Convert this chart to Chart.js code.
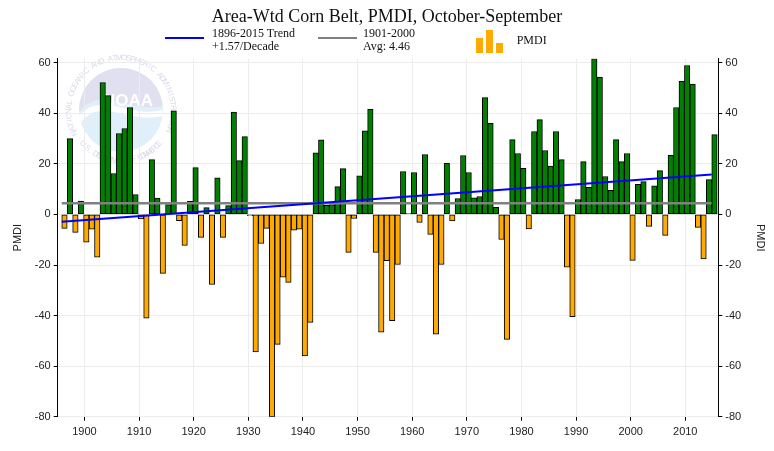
<!DOCTYPE html>
<html>
<head>
<meta charset="utf-8">
<script src="https://cdn.jsdelivr.net/npm/chart.js@4.4.0/dist/chart.umd.min.js"></script>
<style>
  html, body { margin: 0; padding: 0; background: #fff; }
  #wrap { position: relative; width: 774px; height: 451px; overflow: hidden; }
  #chart { position: absolute; left: 0; top: 0; }
  .t { position: absolute; font-family: "Liberation Serif", "Times New Roman", serif; color: #111; white-space: nowrap; }
  .sw { position: absolute; }
</style>
</head>
<body>
<div id="wrap">
  <canvas id="chart" width="774" height="451"></canvas>
  <div class="t" style="left:0;width:774px;top:6.6px;text-align:center;font-size:18px;line-height:18px">Area-Wtd Corn Belt, PMDI, October-September</div>

  <div class="sw" style="left:165px;top:36.7px;width:39px;height:2px;background:#0000ff"></div>
  <div class="t" style="left:212px;top:26.8px;font-size:12px;line-height:13px">1896-2015 Trend<br>+1.57/Decade</div>

  <div class="sw" style="left:318px;top:36.5px;width:39px;height:2.5px;background:#808080"></div>
  <div class="t" style="left:363px;top:26.8px;font-size:12px;line-height:13px">1901-2000<br>Avg: 4.46</div>

  <div class="sw" style="left:476px;top:37.7px;width:7.3px;height:15.6px;background:#ffaa00"></div>
  <div class="sw" style="left:486px;top:30px;width:7.3px;height:23.3px;background:#ffaa00"></div>
  <div class="sw" style="left:496px;top:42.7px;width:7.3px;height:10.6px;background:#ffaa00"></div>
  <div class="t" style="left:516.7px;top:33.5px;font-size:12px;line-height:13px">PMDI</div>
</div>

<script>
// Oct-Sep area-weighted PMDI (x10), one value per year starting 1896
const startYear = 1896;
const pmdi = [
  -5.5, 30, -7.1, 5.3,                                         // 1896-1899
  -11, -5.8, -16.9, 52.2, 47, 16.2, 32, 34, 42.3, 7.9,          // 1900s
  -1.8, -41, 21.7, 6.5, -23.3, 3.9, 41, -2.5, -12.3, 5.2,       // 1910s
  18.5, -9.1, 2.7, -27.7, 14.5, -9.1, 3.5, 40.5, 21.3, 30.8,    // 1920s
  -0.5, -54.4, -11.5, -5.5, -80, -51.4, -24.8, -26.9, -6.2, -5.8, // 1930s
  -56, -42.7, 24.4, 29.5, 3.6, 3.9, 11, 18.1, -15, -1.6,        // 1940s
  15.3, 33.1, 41.6, -15, -46.6, -18.3, -42, -19.8, 17, 0.3,     // 1950s
  16.6, -3.2, 23.7, -7.9, -47.4, -19.8, 20.2, -2.6, 6.3, 23.3,  // 1960s
  16.6, 6.6, 7.1, 46.2, 36, 2.8, -9.9, -49.4, 29.6, 24.1,       // 1970s
  18.2, -5.7, 32.8, 37.5, 25.3, 19.1, 32.8, 21.7, -20.9, -40.4, // 1980s
  5.9, 20.9, 10.7, 61.6, 54.2, 15, 9.5, 29.6, 20.9, 24.1,       // 1990s
  -18.2, 11.9, 13, -4.7, 11.3, 17.3, -8.3, 23.4, 42.3, 52.6,    // 2000s
  58.9, 51.6, -5.1, -17.6, 13.8, 31.6                           // 2010-2015
];

// 1896-2015 linear trend (+1.57/decade), end points
const trendYears = [1895.5, 2014.5];
const trendValues = [-2.9, 15.8];

// 1901-2000 average
const avgYears = [1895.5, 2014.5];
const avgValue = 4.46;

const xTickYears = [1900, 1910, 1920, 1930, 1940, 1950, 1960, 1970, 1980, 1990, 2000, 2010];
const yTicks = [-80, -60, -40, -20, 0, 20, 40, 60];

const GREEN = '#008000';
const ORANGE = '#ffaa00';
const sans = '"Liberation Sans", Arial, sans-serif';

// faint NOAA seal behind the plot
const seal = {
  id: 'seal',
  beforeDraw(chart) {
    const c = chart.ctx;
    const cx = 121, cy = 110, r = 42;
    c.save();
    c.beginPath(); c.arc(cx, cy, r, 0, Math.PI * 2); c.clip();
    c.fillStyle = '#e0effa';
    c.fillRect(cx - r, cy - r, 2 * r, 2 * r);
    c.fillStyle = '#e0e0f0';
    c.beginPath();
    c.moveTo(cx - r, cy + 2);
    c.bezierCurveTo(cx - 20, cy - 26, cx + 8, cy + 4, cx + r, cy - 4);
    c.lineTo(cx + r, cy - r); c.lineTo(cx - r, cy - r); c.closePath();
    c.fill();
    c.strokeStyle = '#fff'; c.lineWidth = 6;
    c.beginPath();
    c.moveTo(cx - r, cy + 10);
    c.bezierCurveTo(cx - 20, cy - 18, cx + 8, cy + 12, cx + r, cy + 3);
    c.stroke();
    c.restore();

    c.save();
    c.fillStyle = '#ffffff';
    c.font = 'bold 17px ' + sans;
    c.textAlign = 'center';
    c.fillText('NOAA', cx + 7, cy - 4);
    c.restore();

    const ring = (txt, a0, a1, R, top) => {
      c.save();
      c.fillStyle = '#dadaea';
      c.font = '8px ' + sans;
      c.textAlign = 'center';
      c.textBaseline = 'middle';
      const n = txt.length;
      for (let i = 0; i < n; i++) {
        const a = a0 + (a1 - a0) * (i + 0.5) / n;
        c.save();
        c.translate(cx + R * Math.cos(a), cy + R * Math.sin(a));
        c.rotate(top ? a + Math.PI / 2 : a - Math.PI / 2);
        c.fillText(txt[i], 0, 0);
        c.restore();
      }
      c.restore();
    };
    ring('NATIONAL OCEANIC AND ATMOSPHERIC ADMINISTRATION', 0.84 * Math.PI, 2.14 * Math.PI, 52, true);
    ring('U.S. DEPARTMENT OF COMMERCE', 0.78 * Math.PI, 0.22 * Math.PI, 51, false);
  }
};

const yTickOpts = { color: '#222', font: { family: sans, size: 11 }, padding: 3 };

new Chart(document.getElementById('chart'), {
  data: {
    datasets: [
      {
        type: 'line',
        data: trendYears.map((x, i) => ({ x, y: trendValues[i] })),
        borderColor: '#0000ff', borderWidth: 2, pointRadius: 0, order: 0
      },
      {
        type: 'line',
        data: avgYears.map(x => ({ x, y: avgValue })),
        borderColor: '#808080', borderWidth: 2.5, pointRadius: 0, order: 1
      },
      {
        type: 'bar',
        data: pmdi.map((v, i) => ({ x: startYear + i, y: v })),
        backgroundColor: pmdi.map(v => v >= 0 ? GREEN : ORANGE),
        borderColor: '#000',
        borderWidth: 1,
        borderSkipped: false,
        barPercentage: 1,
        categoryPercentage: 1,
        order: 2
      }
    ]
  },
  options: {
    responsive: false,
    animation: false,
    layout: { padding: { top: 58.7, left: 0, right: 0, bottom: 0 } },
    plugins: { legend: { display: false }, tooltip: { enabled: false } },
    scales: {
      x: {
        type: 'linear',
        offset: false,
        min: 1894.76, max: 2015.7,
        afterBuildTicks: s => { s.ticks = xTickYears.map(y => ({ value: y - 0.35 })); },
        afterFit: s => { s.height = 34.3; },
        ticks: {
          callback: v => Math.round(v),
          autoSkip: false, maxRotation: 0,
          color: '#222', font: { family: sans, size: 11 }, padding: 5
        },
        grid: { offset: false, color: '#ececec', tickColor: '#000', tickLength: 4 },
        border: { display: false }
      },
      y: {
        position: 'left',
        min: -80, max: 61.6,
        afterBuildTicks: s => { s.ticks = yTicks.map(v => ({ value: v })); },
        afterFit: s => { s.width = 57.7; },
        ticks: yTickOpts,
        grid: { color: '#ececec', tickColor: '#000', tickLength: 4 },
        border: { color: '#000', width: 1 },
        title: { display: true, text: 'PMDI', color: '#222', font: { family: sans, size: 11 }, padding: { top: 11, bottom: 0 } }
      },
      y2: {
        position: 'right',
        min: -80, max: 61.6,
        afterBuildTicks: s => { s.ticks = yTicks.map(v => ({ value: v })); },
        afterFit: s => { s.width = 55.7; },
        ticks: yTickOpts,
        grid: { drawOnChartArea: false, tickColor: '#000', tickLength: 4 },
        border: { color: '#000', width: 1 },
        title: { display: true, text: 'PMDI', color: '#222', font: { family: sans, size: 11 }, padding: { top: 7, bottom: 0 } }
      }
    }
  },
  plugins: [seal]
});
</script>
</body>
</html>
